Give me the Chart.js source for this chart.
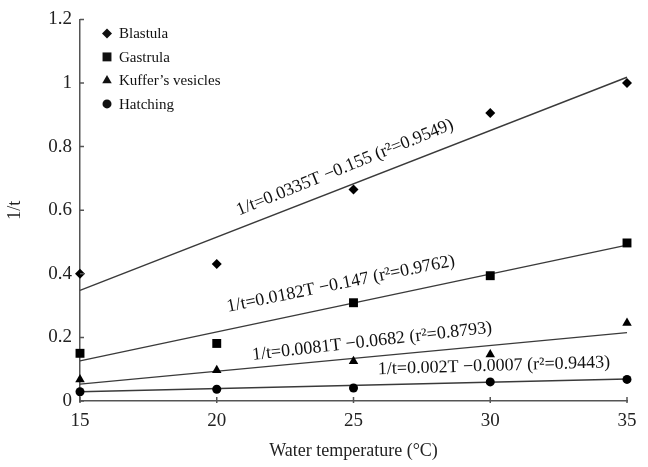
<!DOCTYPE html>
<html lang="en">
<head>
<meta charset="UTF-8">
<title>Development rate vs water temperature</title>
<script src="https://cdn.jsdelivr.net/npm/chart.js"></script>
<style>
  html, body { margin: 0; padding: 0; background: #fff; }
</style>
</head>
<body>
<canvas id="rateChart" width="648" height="467"></canvas>
<script>
// values
const temps = [15, 20, 25, 30, 35];
const blastula = [0.40, 0.431, 0.665, 0.906, 1.0];
const gastrula = [0.15, 0.181, 0.309, 0.394, 0.497];
const kuffer = [0.068, 0.097, 0.125, 0.146, 0.245];
const hatching = [0.029, 0.037, 0.041, 0.060, 0.068];

// regression lines, ends at 15 and 35 degC
const fitEnds = [15, 35];
const blastulaFit = [0.348, 1.018];
const gastrulaFit = [0.126, 0.490];
const kufferFit = [0.053, 0.215];
const hatchingFit = [0.029, 0.069];

const stageNames = ['Blastula', 'Gastrula', 'Kuffer\u2019s vesicles', 'Hatching'];
const fitLabels = [
  '1/t=0.0335T \u22120.155 (r\u00b2=0.9549)',
  '1/t=0.0182T \u22120.147 (r\u00b2=0.9762)',
  '1/t=0.0081T \u22120.0682 (r\u00b2=0.8793)',
  '1/t=0.002T \u22120.0007 (r\u00b2=0.9443)'
];

const serif = "'Liberation Serif', 'Times New Roman', serif";
const pts = (ys, xs) => ys.map((v, i) => ({ x: xs[i], y: v }));

function marker(ctx, style, x, y, r) {
  ctx.beginPath();
  if (style === 'rectRot') {
    ctx.moveTo(x, y - r); ctx.lineTo(x + r, y); ctx.lineTo(x, y + r); ctx.lineTo(x - r, y);
  } else if (style === 'rect') {
    const s = r * Math.SQRT1_2;
    ctx.rect(x - s, y - s, 2 * s, 2 * s);
  } else if (style === 'triangle') {
    ctx.moveTo(x, y - r);
    ctx.lineTo(x + r * 0.866, y + r / 2);
    ctx.lineTo(x - r * 0.866, y + r / 2);
  } else {
    ctx.arc(x, y, r, 0, Math.PI * 2);
  }
  ctx.closePath();
  ctx.fill();
}

const stageLegend = {
  id: 'stageLegend',
  afterDraw(chart, args, opts) {
    const ctx = chart.ctx;
    const left = chart.chartArea.left + opts.dx;
    let top = chart.chartArea.top + opts.dy;
    ctx.save();
    ctx.font = opts.font;
    ctx.fillStyle = '#111';
    ctx.textBaseline = 'middle';
    chart.data.datasets.filter(d => d.stage).forEach(d => {
      marker(ctx, d.pointStyle, left, top, d.pointRadius);
      ctx.fillText(d.label, left + 12, top + 1);
      top += opts.rowGap;
    });
    ctx.restore();
  }
};

const fitText = {
  id: 'fitText',
  afterDatasetsDraw(chart, args, opts) {
    const { ctx, scales: { x, y } } = chart;
    ctx.save();
    ctx.font = opts.font;
    ctx.fillStyle = '#111';
    ctx.textAlign = 'center';
    ctx.textBaseline = 'middle';
    opts.items.forEach((it, i) => {
      ctx.save();
      ctx.translate(x.getPixelForValue(it.at[0]), y.getPixelForValue(it.at[1]));
      ctx.rotate(it.angle * Math.PI / 180);
      ctx.fillText(fitLabels[i], 0, 0);
      ctx.restore();
    });
    ctx.restore();
  }
};

// short tick marks pointing into the plot
const innerTicks = {
  id: 'innerTicks',
  afterDraw(chart, args, opts) {
    const { ctx, chartArea: a, scales: { x, y } } = chart;
    ctx.save();
    ctx.strokeStyle = '#555';
    ctx.lineWidth = 1.5;
    ctx.beginPath();
    y.ticks.forEach(t => {
      const py = y.getPixelForValue(t.value);
      ctx.moveTo(a.left, py); ctx.lineTo(a.left + opts.len, py);
    });
    x.ticks.forEach(t => {
      const px = x.getPixelForValue(t.value);
      ctx.moveTo(px, a.bottom + 2); ctx.lineTo(px, a.bottom - opts.len);
    });
    ctx.stroke();
    ctx.restore();
  }
};

function stageSet(label, ys, style, r) {
  return {
    type: 'scatter', label: label, stage: true, data: pts(ys, temps),
    pointStyle: style, pointRadius: r, pointHoverRadius: r,
    backgroundColor: '#000', borderColor: '#000', borderWidth: 0,
    showLine: false, clip: false, order: 0
  };
}
function fitSet(ys) {
  return {
    type: 'line', data: pts(ys, fitEnds), borderColor: '#3a3a3a',
    borderWidth: 1.4, pointRadius: 0, fill: false, clip: false, order: 1
  };
}

new Chart(document.getElementById('rateChart'), {
  data: {
    datasets: [
      stageSet(stageNames[0], blastula, 'rectRot', 5),
      stageSet(stageNames[1], gastrula, 'rect', 6.3),
      stageSet(stageNames[2], kuffer, 'triangle', 5.5),
      stageSet(stageNames[3], hatching, 'circle', 4.5),
      fitSet(blastulaFit),
      fitSet(gastrulaFit),
      fitSet(kufferFit),
      fitSet(hatchingFit)
    ]
  },
  options: {
    responsive: false,
    animation: false,
    layout: { padding: { top: 19, right: 21, bottom: 1, left: 0 } },
    plugins: {
      legend: { display: false },
      tooltip: { enabled: false },
      innerTicks: { len: 4 },
      stageLegend: { dx: 27, dy: 14, rowGap: 23.5, font: '15px ' + serif },
      fitText: {
        font: '18px ' + serif,
        items: [
          { at: [24.69, 0.734], angle: -22 },
          { at: [24.54, 0.368], angle: -11.5 },
          { at: [25.68, 0.187], angle: -6.5 },
          { at: [30.14, 0.110], angle: -1.7 }
        ]
      }
    },
    scales: {
      x: {
        type: 'linear', min: 15, max: 35,
        afterFit: s => { s.height = 65; },
        ticks: { stepSize: 5, color: '#222', padding: 9, font: { family: serif, size: 19 } },
        grid: { display: false, drawTicks: false },
        border: { color: '#555', width: 1.5 },
        title: { display: true, text: 'Water temperature (\u00b0C)', color: '#222', font: { family: serif, size: 18 } }
      },
      y: {
        type: 'linear', min: 0, max: 1.2,
        afterFit: s => { s.width = 80; },
        ticks: {
          stepSize: 0.2, color: '#222', padding: 8, font: { family: serif, size: 19 },
          callback: v => String(Number(v.toFixed(1)))
        },
        grid: { display: false, drawTicks: false },
        border: { color: '#555', width: 1.5 },
        title: { display: true, text: '1/t', color: '#222', font: { family: serif, size: 18 } }
      }
    }
  },
  plugins: [fitText, stageLegend, innerTicks]
});
</script>
</body>
</html>
